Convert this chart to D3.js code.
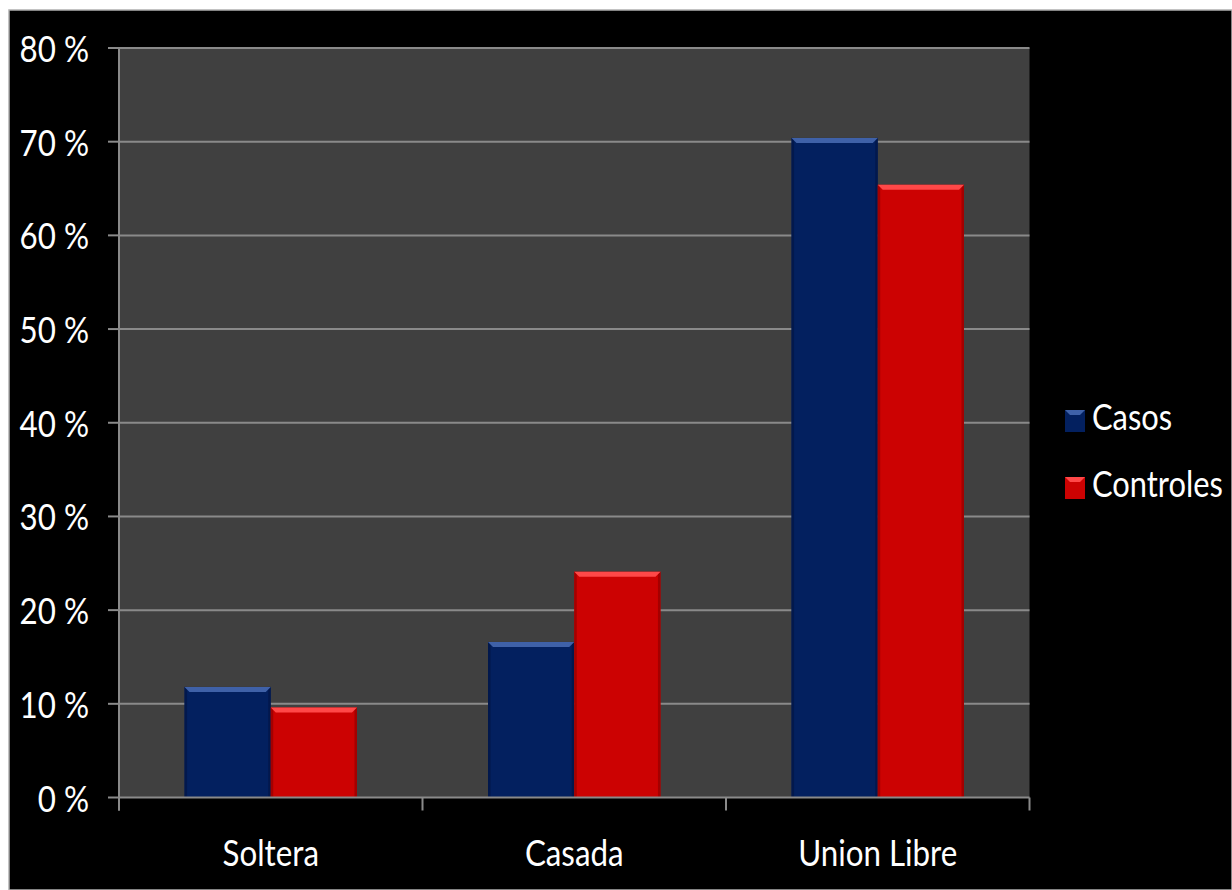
<!DOCTYPE html>
<html>
<head>
<meta charset="utf-8">
<script src="https://cdn.jsdelivr.net/npm/d3@7"></script>
<style>
  html, body { margin: 0; padding: 0; background: #ffffff; }
  svg { display: block; }
</style>
</head>
<body>
<svg id="chart" width="1232" height="890"></svg>
<script>
// Estado civil: porcentaje de casos y controles
const categories = ["Soltera", "Casada", "Union Libre"];
const seriesNames = ["Casos", "Controles"];
const casos = [11.8, 16.6, 70.4];
const controles = [9.6, 24.1, 65.4];
const yTicks = [0, 10, 20, 30, 40, 50, 60, 70, 80];

const seriesColors = { Casos: "#03205f", Controles: "#cc0202" };
const seriesLight = { Casos: "#3f61a8", Controles: "#ff4848" };
const seriesDark = { Casos: "#021648", Controles: "#9a0000" };

const svg = d3.select("#chart");
const W = 1232, H = 890;
const font = "Lato, 'Open Sans', sans-serif";
const fontSize = 36;
const squeeze = 0.87; // narrow the letterforms horizontally

// Frame: white margin with a thin grey border around the black panel
svg.append("rect").attr("width", W).attr("height", H).attr("fill", "#ffffff");
svg.append("rect").attr("x", 9).attr("y", 10).attr("width", W - 9).attr("height", H - 10)
  .attr("fill", "#000000").attr("stroke", "#b0b0b0").attr("stroke-width", 1.5);

const plot = { left: 119, right: 1029.5, top: 48, bottom: 797.5 };

const x0 = d3.scaleBand().domain(categories).range([plot.left, plot.right]).paddingInner(0).paddingOuter(0);
const x1 = d3.scaleBand().domain(seriesNames).range([0, x0.bandwidth()]).paddingInner(0).paddingOuter(0.76);
const y = d3.scaleLinear().domain([0, 80]).range([plot.bottom, plot.top]);

// Text helper: label anchored at the group's origin
function label(sel, anchor) {
  return sel.append("text")
    .attr("text-anchor", anchor)
    .attr("fill", "#ffffff")
    .attr("font-family", font)
    .attr("font-size", fontSize);
}

// Plot area background
svg.append("rect")
  .attr("x", plot.left).attr("y", plot.top)
  .attr("width", plot.right - plot.left).attr("height", plot.bottom - plot.top)
  .attr("fill", "#404040");

// Horizontal gridlines
svg.append("g").selectAll("line").data(yTicks.filter(d => d > 0)).join("line")
  .attr("x1", plot.left).attr("x2", plot.right)
  .attr("y1", d => y(d)).attr("y2", d => y(d))
  .attr("stroke", "#8a8a8a").attr("stroke-width", 2);

// Bars with a bevelled top edge
const rows = categories.map((c, i) => ({ cat: c, Casos: casos[i], Controles: controles[i] }));
const barGroups = svg.append("g").selectAll("g").data(rows).join("g")
  .attr("transform", d => `translate(${x0(d.cat)},0)`);

barGroups.each(function (d) {
  const g = d3.select(this);
  seriesNames.forEach(s => {
    const bx = x1(s), bw = x1.bandwidth();
    const top = y(d[s]), bot = y(0);
    const bev = 5;
    g.append("rect").attr("x", bx).attr("y", top).attr("width", bw).attr("height", bot - top)
      .attr("fill", seriesColors[s]);
    g.append("rect").attr("x", bx).attr("y", top).attr("width", 2.5).attr("height", bot - top)
      .attr("fill", seriesDark[s]).attr("opacity", 0.8);
    g.append("rect").attr("x", bx + bw - 2.5).attr("y", top).attr("width", 2.5).attr("height", bot - top)
      .attr("fill", seriesDark[s]).attr("opacity", 0.8);
    g.append("polygon")
      .attr("points", [[bx, top], [bx + bw, top], [bx + bw - bev, top + bev], [bx + bev, top + bev]].map(p => p.join(",")).join(" "))
      .attr("fill", seriesLight[s]);
  });
});

// Y axis line, ticks and labels
const axisColor = "#8a8a8a";
svg.append("line").attr("x1", plot.left).attr("x2", plot.left).attr("y1", plot.top).attr("y2", plot.bottom + 13)
  .attr("stroke", axisColor).attr("stroke-width", 2);
svg.append("g").selectAll("line").data(yTicks).join("line")
  .attr("x1", plot.left - 11).attr("x2", plot.left)
  .attr("y1", d => y(d)).attr("y2", d => y(d))
  .attr("stroke", axisColor).attr("stroke-width", 2);
svg.append("g").selectAll("g").data(yTicks).join("g")
  .attr("transform", d => `translate(89,${y(d) + 14}) scale(${squeeze},1)`)
  .each(function (d) { label(d3.select(this), "end").text(`${d} %`); });

// X axis line, category boundary ticks and labels
svg.append("line").attr("x1", plot.left).attr("x2", plot.right).attr("y1", plot.bottom).attr("y2", plot.bottom)
  .attr("stroke", axisColor).attr("stroke-width", 2);
const boundaries = categories.map(c => x0(c)).concat([x0(categories[categories.length - 1]) + x0.bandwidth()]);
svg.append("g").selectAll("line").data(boundaries).join("line")
  .attr("x1", d => d).attr("x2", d => d)
  .attr("y1", plot.bottom).attr("y2", plot.bottom + 13)
  .attr("stroke", axisColor).attr("stroke-width", 2);
svg.append("g").selectAll("g").data(categories).join("g")
  .attr("transform", d => `translate(${x0(d) + x0.bandwidth() / 2},866) scale(${squeeze},1)`)
  .each(function (d) { label(d3.select(this), "middle").text(d); });

// Legend
const legend = svg.append("g").selectAll("g").data(seriesNames).join("g")
  .attr("transform", (d, i) => `translate(1065,${421 + i * 67})`);
legend.append("rect").attr("x", 0).attr("y", -11).attr("width", 20).attr("height", 22)
  .attr("fill", d => seriesColors[d]);
legend.append("polygon")
  .attr("points", "0,-11 20,-11 15,-6 5,-6")
  .attr("fill", d => seriesLight[d]);
legend.append("g")
  .attr("transform", `translate(27,9) scale(${squeeze * 0.985},1)`)
  .each(function (d) { label(d3.select(this), "start").text(d); });
</script>
</body>
</html>
